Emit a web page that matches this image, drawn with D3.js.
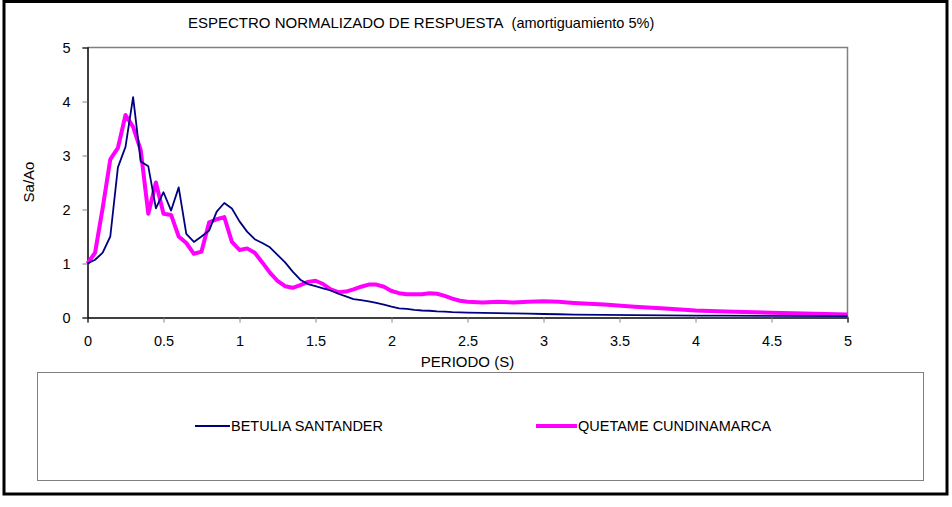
<!DOCTYPE html>
<html>
<head>
<meta charset="utf-8">
<script src="https://cdn.jsdelivr.net/npm/d3@7"></script>
<style>
  html, body { margin: 0; padding: 0; background: #fff; }
  text { font-family: "Liberation Sans", Arial, sans-serif; fill: #000; }
</style>
</head>
<body>
<svg id="chart" width="952" height="507"></svg>
<script>
// ---- Data ----
const periods = [
  0, 0.05, 0.10, 0.15, 0.20, 0.25, 0.30, 0.35, 0.40, 0.45,
  0.50, 0.55, 0.60, 0.65, 0.70, 0.75, 0.80, 0.85, 0.90, 0.95,
  1.00, 1.05, 1.10, 1.15, 1.20, 1.25, 1.30, 1.35, 1.40, 1.45,
  1.50, 1.55, 1.60, 1.65, 1.70, 1.75, 1.80, 1.85, 1.90, 1.95,
  2.00, 2.05, 2.10, 2.15, 2.20, 2.25, 2.30, 2.35, 2.40, 2.45,
  2.50, 2.60, 2.70, 2.80, 2.90, 3.00, 3.10, 3.20, 3.40, 3.60,
  3.80, 4.00, 4.20, 4.50, 5.00
];
const betulia = [
  1.00, 1.07, 1.20, 1.50, 2.78, 3.16, 4.08, 2.89, 2.80, 2.02,
  2.32, 1.98, 2.41, 1.55, 1.40, 1.50, 1.61, 1.96, 2.12, 2.02,
  1.78, 1.59, 1.45, 1.38, 1.30, 1.16, 1.02, 0.85, 0.70, 0.62,
  0.58, 0.54, 0.50, 0.44, 0.39, 0.34, 0.32, 0.30, 0.27, 0.24,
  0.20, 0.17, 0.16, 0.14, 0.13, 0.125, 0.115, 0.11, 0.10, 0.095,
  0.09, 0.085, 0.08, 0.075, 0.07, 0.065, 0.06, 0.055, 0.05, 0.045,
  0.04, 0.035, 0.033, 0.03, 0.025
];
const quetame = [
  1.00, 1.20, 2.03, 2.93, 3.14, 3.75, 3.53, 3.10, 1.92, 2.50,
  1.92, 1.90, 1.50, 1.38, 1.18, 1.22, 1.76, 1.82, 1.86, 1.40,
  1.25, 1.28, 1.20, 1.02, 0.83, 0.68, 0.58, 0.55, 0.60, 0.66,
  0.68, 0.62, 0.52, 0.47, 0.48, 0.52, 0.57, 0.61, 0.61, 0.57,
  0.49, 0.45, 0.43, 0.43, 0.43, 0.45, 0.44, 0.40, 0.35, 0.31,
  0.29, 0.28, 0.29, 0.28, 0.29, 0.30, 0.29, 0.27, 0.24, 0.20,
  0.165, 0.13, 0.11, 0.09, 0.055
];
const xTicks = [0, 0.5, 1, 1.5, 2, 2.5, 3, 3.5, 4, 4.5, 5];
const yTicks = [0, 1, 2, 3, 4, 5];
const seriesNames = ["BETULIA SANTANDER", "QUETAME CUNDINAMARCA"];
const seriesColors = ["#000080", "#FF00FF"];
const seriesWidths = [1.8, 4];
const titleMain = "ESPECTRO NORMALIZADO DE RESPUESTA";
const titleSub = "(amortiguamiento 5%)";
const xLabel = "PERIODO (S)";
const yLabel = "Sa/Ao";

// ---- Layout ----
const svg = d3.select("#chart");
const plot = { left: 87.5, right: 847.5, top: 47.5, bottom: 317.5 };
const fontFam = "Liberation Sans, Arial, sans-serif";

const x = d3.scaleLinear().domain([0, 5]).range([plot.left, plot.right]);
const y = d3.scaleLinear().domain([0, 5]).range([plot.bottom, plot.top]);

// outer border
svg.append("rect")
  .attr("x", 4).attr("y", 1.5).attr("width", 943).attr("height", 492.5)
  .attr("fill", "none").attr("stroke", "#000").attr("stroke-width", 3);

// title
const title = svg.append("text")
  .attr("x", 188).attr("y", 28)
  .style("font-size", "15px");
title.append("tspan").text(titleMain);
title.append("tspan").attr("dx", 8).style("font-size", "14.5px").text(titleSub);

// plot frame (top/right gray)
svg.append("path")
  .attr("d", `M${plot.left},${plot.top}H${plot.right}V${plot.bottom}`)
  .attr("fill", "none").attr("stroke", "#808080").attr("stroke-width", 1.5);

// axes
const xAxis = d3.axisBottom(x).tickValues(xTicks).tickSize(5).tickPadding(13)
  .tickFormat(d => String(d));
const gx = svg.append("g").attr("transform", `translate(0,${plot.bottom})`).call(xAxis);
gx.select(".domain").attr("stroke", "#000").attr("stroke-width", 1.5);
gx.selectAll(".tick line").attr("stroke", "#808080");
gx.selectAll(".tick text").style("font-size", "14.5px").style("font-family", fontFam).attr("fill", "#000");

const yAxis = d3.axisLeft(y).tickValues(yTicks).tickSize(5).tickPadding(12)
  .tickFormat(d => String(d));
const gy = svg.append("g").attr("transform", `translate(${plot.left},0)`).call(yAxis);
gy.select(".domain").attr("stroke", "#000").attr("stroke-width", 1.5);
gy.selectAll(".tick line").attr("stroke", "#808080");
gy.selectAll(".tick text").style("font-size", "14.5px").style("font-family", fontFam).attr("fill", "#000");

// axis labels
svg.append("text")
  .attr("x", (plot.left + plot.right) / 2).attr("y", 367)
  .attr("text-anchor", "middle").style("font-size", "15px").text(xLabel);
svg.append("text")
  .attr("transform", "translate(34,182) rotate(-90)")
  .attr("text-anchor", "middle").style("font-size", "15px").text(yLabel);

// lines (magenta first, navy on top)
const line = d3.line().x(d => x(d[0])).y(d => y(d[1]));
const allSeries = [betulia, quetame];
[1, 0].forEach(i => {
  svg.append("path")
    .datum(periods.map((p, k) => [p, allSeries[i][k]]))
    .attr("d", line)
    .attr("fill", "none")
    .attr("stroke", seriesColors[i])
    .attr("stroke-width", seriesWidths[i])
    .attr("stroke-linejoin", "round");
});

// legend
svg.append("rect")
  .attr("x", 37.5).attr("y", 372.5).attr("width", 886).attr("height", 108)
  .attr("fill", "none").attr("stroke", "#808080").attr("stroke-width", 1);

const legendItems = [
  { x1: 195, x2: 230 },
  { x1: 536, x2: 577 }
];
legendItems.forEach((it, i) => {
  svg.append("line")
    .attr("x1", it.x1).attr("x2", it.x2).attr("y1", 426).attr("y2", 426)
    .attr("stroke", seriesColors[i]).attr("stroke-width", seriesWidths[i]);
  svg.append("text")
    .attr("x", it.x2 + 1).attr("y", 431)
    .style("font-size", "14.5px").text(seriesNames[i]);
});
</script>
</body>
</html>
